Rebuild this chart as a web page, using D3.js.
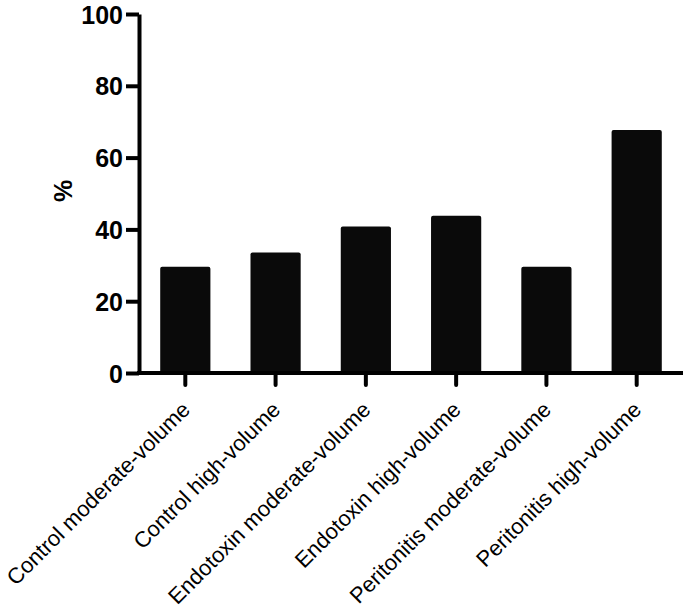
<!DOCTYPE html>
<html><head><meta charset="utf-8">
<script src="https://cdn.jsdelivr.net/npm/d3@7"></script>
<style>body{margin:0;background:#fff}svg{display:block}</style>
</head><body>
<script>
const categories = ["Control moderate-volume","Control high-volume","Endotoxin moderate-volume","Endotoxin high-volume","Peritonitis moderate-volume","Peritonitis high-volume"];
const values = [29.6, 33.6, 40.8, 43.8, 29.6, 67.7];
const yTicks = [0, 20, 40, 60, 80, 100];
const yLabel = "%";

const W = 685, H = 614;
const svg = d3.select("body").append("svg").attr("width", W).attr("height", H);

const y = d3.scaleLinear().domain([0, 100]).range([373, 14]);
const x = d3.scaleBand().domain(categories).range([139, 683]).paddingInner(0.444).paddingOuter(0.235);

// bars
svg.selectAll("rect.bar").data(categories).enter().append("rect")
  .attr("class", "bar")
  .attr("x", d => x(d))
  .attr("width", x.bandwidth())
  .attr("y", (d, i) => y(values[i]))
  .attr("height", (d, i) => y(0) - y(values[i]))
  .attr("rx", 2)
  .attr("fill", "#0a0a0a");

// y axis
const yAxis = d3.axisLeft(y).tickValues(yTicks).tickSize(13).tickPadding(3).tickSizeOuter(0);
const gy = svg.append("g").attr("transform", "translate(139,0)").call(yAxis);
gy.select(".domain").attr("stroke", "#000").attr("stroke-width", 4);
gy.selectAll(".tick line").attr("stroke", "#000").attr("stroke-width", 4);
gy.selectAll(".tick text").attr("font-family", "Liberation Sans, Arial, sans-serif")
  .attr("font-weight", "bold").attr("font-size", 25).attr("fill", "#000").attr("dy", "0.36em");

// x axis
const xAxis = d3.axisBottom(x).tickSize(12).tickSizeOuter(0).tickFormat("");
const gx = svg.append("g").attr("transform", "translate(0,373)").call(xAxis);
gx.select(".domain").attr("stroke", "#000").attr("stroke-width", 4).attr("d", "M137,0H683");
gx.selectAll(".tick line").attr("stroke", "#000").attr("stroke-width", 4).attr("stroke-linecap", "round").attr("y1", 2);

// x labels
svg.append("g").selectAll("text").data(categories).enter().append("text")
  .attr("transform", d => `translate(${x(d) + x.bandwidth() / 2 + 6},411) rotate(-45)`)
  .attr("text-anchor", "end")
  .attr("font-family", "Liberation Sans, Arial, sans-serif")
  .attr("font-size", 22)
  .attr("fill", "#000")
  .text(d => d);

// y label
svg.append("text")
  .attr("transform", "translate(72,191) rotate(-90)")
  .attr("text-anchor", "middle")
  .attr("font-family", "Liberation Sans, Arial, sans-serif")
  .attr("font-weight", "bold")
  .attr("font-size", 25)
  .attr("fill", "#000")
  .text(yLabel);
</script>
</body></html>
